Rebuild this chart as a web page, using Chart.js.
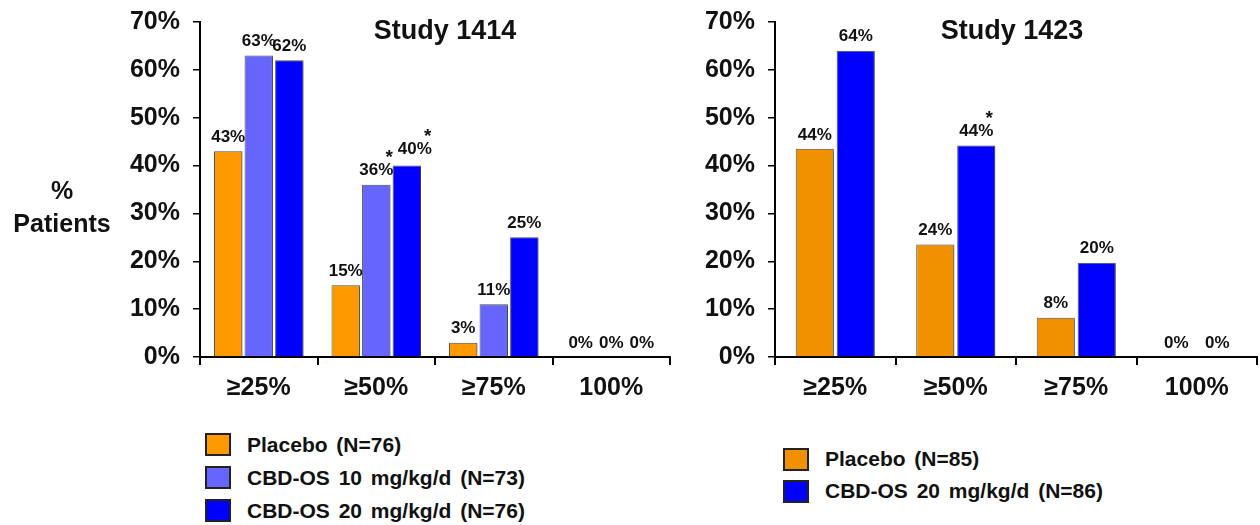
<!DOCTYPE html>
<html>
<head>
<meta charset="utf-8">
<script src="https://cdn.jsdelivr.net/npm/chart.js@4.4.1/dist/chart.umd.min.js"></script>
<style>
  body { margin: 0; background: #fff; width: 1260px; height: 525px; overflow: hidden; position: relative; font-family: "Liberation Sans", Arial, sans-serif; }
  canvas { position: absolute; top: 0; }
  #c1414 { left: 0; }
  #c1423 { left: 680px; }
  .legend { position: absolute; font-weight: bold; font-size: 21px; color: #111; word-spacing: 3px; }
  .legend .row { display: flex; align-items: center; height: 33px; }
  .legend .box { width: 22px; height: 19px; border: 2px solid #222; margin-right: 16px; }
  #leg1414 { left: 205px; top: 428px; }
  #leg1423 { left: 783px; top: 443px; }
  #leg1423 .row { height: 32px; }
</style>
</head>
<body>
<canvas id="c1414" width="680" height="400"></canvas>
<canvas id="c1423" width="580" height="400"></canvas>
<div class="legend" id="leg1414"></div>
<div class="legend" id="leg1423"></div>
<script>
// categories and values
const categories = ["≥25%", "≥50%", "≥75%", "100%"];
const yTicks = [0, 10, 20, 30, 40, 50, 60, 70];

const names1414 = ["Placebo (N=76)", "CBD-OS 10 mg/kg/d (N=73)", "CBD-OS 20 mg/kg/d (N=76)"];
const placebo1414 = [43, 15, 3, 0];
const cbd10_1414 = [63, 36, 11, 0];
const cbd20_1414 = [62, 40, 25, 0];
const stars1414 = [[], [1], [1]]; // category index with asterisk, per series

const names1423 = ["Placebo (N=85)", "CBD-OS 20 mg/kg/d (N=86)"];
const placebo1423 = [43.5, 23.5, 8.2, 0];
const cbd20_1423 = [64, 44.2, 19.7, 0];
const stars1423 = [[], [1]];

const FONT = '"Liberation Sans", Arial, sans-serif';
Chart.defaults.font.family = FONT;
Chart.defaults.color = '#000';

// value labels above the bars, with asterisks
const barLabels = {
  id: 'barLabels',
  afterDraw(chart, args, opts) {
    const ctx = chart.ctx;
    ctx.save();
    ctx.fillStyle = '#111';
    ctx.textAlign = 'center';
    ctx.textBaseline = 'middle';
    chart.data.datasets.forEach((ds, di) => {
      const meta = chart.getDatasetMeta(di);
      meta.data.forEach((bar, i) => {
        const txt = Math.round(ds.data[i]) + '%';
        const starred = opts.stars[di] && opts.stars[di].includes(i);
        const dx = starred ? (opts.starShift[di] || 0) : 0;
        const x = bar.x + dx;
        const y = bar.y - 14 - (dx ? 2 : 0);
        ctx.font = 'bold 17px ' + FONT;
        ctx.fillText(txt, x, y);
        if (starred) {
          const w = ctx.measureText(txt).width;
          ctx.font = 'bold 19px ' + FONT;
          ctx.fillText('*', x + w / 2 - 4, y - 13);
        }
      });
    });
    ctx.restore();
  }
};

// chart title inside the plot and the "% Patients" label
const extraText = {
  id: 'extraText',
  afterDraw(chart, args, opts) {
    const ctx = chart.ctx;
    const a = chart.chartArea;
    ctx.save();
    ctx.fillStyle = '#111';
    ctx.textAlign = 'center';
    ctx.textBaseline = 'middle';
    ctx.font = 'bold 27px ' + FONT;
    ctx.fillText(opts.title, (a.left + a.right) / 2 + opts.titleShift, a.top + 10);
    if (opts.yTitle) {
      ctx.font = 'bold 25px ' + FONT;
      ctx.fillText(opts.yTitle[0], 62, 192);
      ctx.fillText(opts.yTitle[1], 62, 225);
    }
    ctx.restore();
  }
};

// light drop shadow on the bars
const barShadow = {
  id: 'barShadow',
  beforeDatasetDraw(chart) {
    const ctx = chart.ctx;
    ctx.save();
    ctx.shadowColor = 'rgba(0,0,0,0.3)';
    ctx.shadowOffsetX = 2;
    ctx.shadowOffsetY = 1;
    ctx.shadowBlur = 2;
  },
  afterDatasetDraw(chart) {
    chart.ctx.restore();
  }
};

function makeChart(id, series, colors, stars, cfg) {
  return new Chart(document.getElementById(id), {
    type: 'bar',
    data: {
      labels: categories,
      datasets: series.map((s, i) => ({
        data: s,
        backgroundColor: colors[i],
        borderColor: '#555',
        borderWidth: 1,
        categoryPercentage: cfg.catPct,
        barPercentage: cfg.barPct
      }))
    },
    options: {
      responsive: false,
      devicePixelRatio: 1,
      animation: false,
      layout: { padding: { top: 22, right: cfg.padRight, left: 0, bottom: 0 } },
      scales: {
        x: {
          afterFit: (s) => { s.height = 43; s.paddingLeft = 0; s.paddingRight = 0; },
          border: { color: '#000', width: 2 },
          grid: { offset: true, drawOnChartArea: false, drawTicks: true, tickLength: 8, color: '#000', lineWidth: 2 },
          ticks: { font: { size: 25, weight: 'bold' }, color: '#111', padding: 8 }
        },
        y: {
          min: 0,
          max: 70,
          afterFit: (s) => { s.width = cfg.yWidth; s.paddingTop = 0; s.paddingBottom = 0; },
          afterBuildTicks: (s) => { s.ticks = yTicks.map(v => ({ value: v })); },
          border: { color: '#000', width: 2 },
          grid: { drawOnChartArea: false, drawTicks: true, tickLength: 7, color: '#000', lineWidth: 1.5 },
          ticks: { font: { size: 25, weight: 'bold' }, color: '#111', padding: 13, callback: (v) => v + '%' }
        }
      },
      plugins: {
        legend: { display: false },
        tooltip: { enabled: false },
        barLabels: { stars: stars, starShift: cfg.starShift },
        extraText: { title: cfg.title, titleShift: cfg.titleShift, yTitle: cfg.yTitle }
      }
    },
    plugins: [barShadow, barLabels, extraText]
  });
}

function makeLegend(id, names, colors) {
  const el = document.getElementById(id);
  names.forEach((n, i) => {
    const row = document.createElement('div');
    row.className = 'row';
    const box = document.createElement('div');
    box.className = 'box';
    box.style.background = colors[i];
    const t = document.createElement('span');
    t.textContent = n;
    row.appendChild(box);
    row.appendChild(t);
    el.appendChild(row);
  });
}

const colors1414 = ['#FF9900', '#6666FF', '#0000FF'];
const colors1423 = ['#F29100', '#0000FF'];

makeChart('c1414', [placebo1414, cbd10_1414, cbd20_1414], colors1414, stars1414,
  { catPct: 0.78, barPct: 0.93, padRight: 10, yWidth: 200, title: 'Study 1414', titleShift: 10,
    yTitle: ['%', 'Patients'], starShift: [0, 0, 8] });
makeChart('c1423', [placebo1423, cbd20_1423], colors1423, stars1423,
  { catPct: 0.68, barPct: 0.93, padRight: 3, yWidth: 95, title: 'Study 1423', titleShift: -4,
    yTitle: null, starShift: [0, 0] });

makeLegend('leg1414', names1414, colors1414);
makeLegend('leg1423', names1423, colors1423);
</script>
</body>
</html>
